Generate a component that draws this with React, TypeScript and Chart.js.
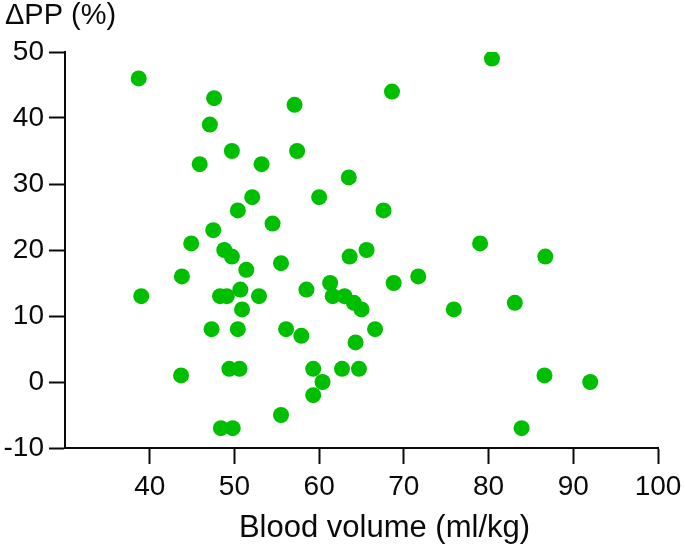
import React, { useEffect, useRef } from "react";
import { Chart, registerables } from "chart.js";

Chart.register(...registerables);

const bloodVolume: number[] = [
  38.7, 39.0, 43.7, 43.8, 44.9, 45.9, 47.1, 47.6, 47.5, 47.3,
  48.3, 49.1, 48.8, 49.7, 49.7, 48.4, 49.8, 49.4, 50.6, 50.4,
  50.4, 50.7, 50.9, 51.4, 52.1, 52.9, 53.2, 54.5, 55.5, 55.5,
  56.1, 57.1, 57.4, 57.9, 58.5, 59.3, 59.3, 60.0, 60.4, 61.3,
  61.6, 62.7, 63.0, 63.5, 63.6, 64.1, 64.3, 64.7, 65.0, 65.6,
  66.6, 67.6, 68.6, 68.8, 71.7, 75.9, 79.0, 80.4, 83.1, 83.9,
  86.6, 86.7, 92.0,
];

const deltaPP: number[] = [
  46, 13, 1, 16, 21, 33, 39, 43, 23, 8,
  13, 13, 20, 19, 35, -7, -7, 2, 2, 8,
  26, 14, 11, 17, 28, 13, 33, 24, 18, -5,
  8, 42, 35, 7, 14, 2, -2, 28, 0, 15,
  13, 2, 13, 31, 19, 12, 6, 2, 11, 20,
  8, 26, 44, 15, 16, 11, 21, 49, 12, -7,
  1, 19, 0,
];

const xTicks = { min: 30, max: 100, step: 10 };
const yTicks = { min: -10, max: 50, step: 10 };
const xTitle = "Blood volume (ml/kg)";
const yTitle = "ΔPP (%)";

const FONT = '"Liberation Sans", Arial, Helvetica, sans-serif';
const INK = "#0a0a0a";
const GREEN = "#00BE00";

const titlesPlugin = {
  id: "customTitles",
  afterDraw(chart: any) {
    const ctx = chart.ctx;
    const area = chart.chartArea;
    ctx.save();
    ctx.fillStyle = INK;
    ctx.textBaseline = "alphabetic";
    ctx.font = `29px ${FONT}`;
    ctx.textAlign = "left";
    ctx.fillText(yTitle, 5, 24);
    ctx.font = `31px ${FONT}`;
    ctx.textAlign = "center";
    ctx.fillText(xTitle, (area.left + area.right) / 2 + 23, 537);
    ctx.restore();
  },
};

export default function App() {
  const canvasRef = useRef<HTMLCanvasElement | null>(null);

  useEffect(() => {
    if (!canvasRef.current) return;
    const points = bloodVolume.map((x, i) => ({ x, y: deltaPP[i] }));
    const chart = new Chart(canvasRef.current, {
      type: "scatter",
      data: {
        datasets: [
          {
            data: points,
            backgroundColor: GREEN,
            borderColor: GREEN,
            borderWidth: 0,
            pointRadius: 8,
            pointHoverRadius: 8,
          },
        ],
      },
      plugins: [titlesPlugin],
      options: {
        animation: false,
        responsive: false,
        maintainAspectRatio: false,
        layout: { padding: { top: 52, right: 27, left: 0, bottom: 0 } },
        plugins: {
          legend: { display: false },
          tooltip: { enabled: false },
          title: { display: false },
        },
        scales: {
          x: {
            type: "linear",
            min: xTicks.min,
            max: xTicks.max,
            afterFit: (scale: any) => {
              scale.height = 99;
              scale.paddingRight = 0;
              scale.paddingLeft = 0;
            },
            border: { display: true, color: INK, width: 2 },
            grid: {
              drawOnChartArea: false,
              drawTicks: true,
              tickLength: 16,
              tickWidth: 2,
              tickColor: (ctx: any) =>
                ctx.tick && ctx.tick.value === xTicks.min ? "rgba(0,0,0,0)" : INK,
            },
            ticks: {
              stepSize: xTicks.step,
              color: INK,
              padding: 6,
              font: { family: FONT, size: 28 },
              callback: (v: any) => (v === xTicks.min ? "" : String(v)),
            },
          },
          y: {
            type: "linear",
            min: yTicks.min,
            max: yTicks.max,
            afterFit: (scale: any) => {
              scale.width = 65;
            },
            border: { display: true, color: INK, width: 2 },
            grid: {
              drawOnChartArea: false,
              drawTicks: true,
              tickLength: 16,
              tickWidth: 2,
              tickColor: INK,
            },
            ticks: {
              stepSize: yTicks.step,
              color: INK,
              padding: 5,
              font: { family: FONT, size: 28 },
            },
          },
        },
      },
    });
    return () => chart.destroy();
  }, []);

  return (
    <div style={{ position: "fixed", left: 0, top: 0, width: 685, height: 547, background: "#fff" }}>
      <canvas ref={canvasRef} width={685} height={547} style={{ width: 685, height: 547 }} />
    </div>
  );
}
